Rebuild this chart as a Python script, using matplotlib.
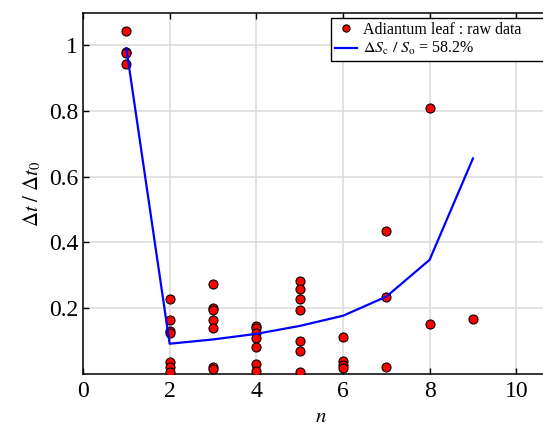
import matplotlib
matplotlib.use("Agg")
import matplotlib.pyplot as plt
import numpy as np

plt.rcParams['font.family'] = ['Liberation Serif', 'DejaVu Serif']
plt.rcParams['mathtext.fontset'] = 'stix'

# raw data (n, dt/dt0)
n_raw = [1, 1, 1, 1,
         2, 2, 2, 2, 2, 2, 2,
         3, 3, 3, 3, 3, 3, 3,
         4, 4, 4, 4, 4, 4, 4,
         5, 5, 5, 5, 5, 5, 5,
         6, 6, 6, 6,
         7, 7, 7,
         8, 8,
         9]
t_raw = [1.043, 0.978, 0.975, 0.943,
         0.228, 0.164, 0.132, 0.124, 0.037, 0.022, 0.007,
         0.274, 0.200, 0.195, 0.164, 0.139, 0.020, 0.014,
         0.146, 0.139, 0.124, 0.108, 0.083, 0.029, 0.010,
         0.284, 0.257, 0.228, 0.196, 0.100, 0.070, 0.007,
         0.113, 0.040, 0.027, 0.017,
         0.436, 0.233, 0.022,
         0.808, 0.152,
         0.166]

# model curve
n_fit = [1, 2, 3, 4, 5, 6, 7, 8, 9]
t_fit = [0.99, 0.092, 0.105, 0.122, 0.146, 0.177, 0.235, 0.347, 0.655]

fig = plt.figure(figsize=(5.43, 4.25), dpi=100)
ax = fig.add_axes([83 / 543, 1 - 374 / 425, 476.6 / 543, 361 / 425])

ax.grid(True, color='#dddddd', linewidth=1.2, zorder=0)
ax.plot(n_raw, t_raw, 'o', color='red', markeredgecolor='black',
        markeredgewidth=0.8, markersize=6.5, label='Adiantum leaf : raw data', zorder=3)
ax.plot(n_fit, t_fit, '-', color='blue', linewidth=1.6,
        label=r'$\Delta S_{\rm c}\ /\ S_{\rm o}$ = 58.2%', zorder=4)

ax.set_xlim(0, 11)
ax.set_ylim(0, 1.097)
ax.set_xticks([0, 2, 4, 6, 8, 10])
ax.set_yticks([0.2, 0.4, 0.6, 0.8, 1.0])
ax.set_yticklabels(['0.2', '0.4', '0.6', '0.8', '1'])
ax.tick_params(direction='in', top=True, right=True, labelsize=17, length=4, width=1)
ax.tick_params(axis='x', pad=5)
for s in ax.spines.values():
    s.set_linewidth(1.1)

ax.set_xlabel(r'$n$', fontsize=15, labelpad=4)
ax.set_ylabel(r'$\Delta t\ /\ \Delta t_0$', fontsize=15, labelpad=4)

# the legend box runs past the right edge of the figure, like the original
leg = ax.legend(loc='upper left', mode='expand',
                bbox_to_anchor=(331 / 543, 1 - 61 / 425, 235 / 543, 43 / 425),
                bbox_transform=fig.transFigure, borderaxespad=0, fontsize=11.5,
                fancybox=False, framealpha=1, edgecolor='black', handlelength=1.4,
                borderpad=0.25, labelspacing=0.15, handletextpad=0.35, markerscale=0.8)
leg.get_frame().set_linewidth(1.0)

fig.savefig('out.png', dpi=100)
